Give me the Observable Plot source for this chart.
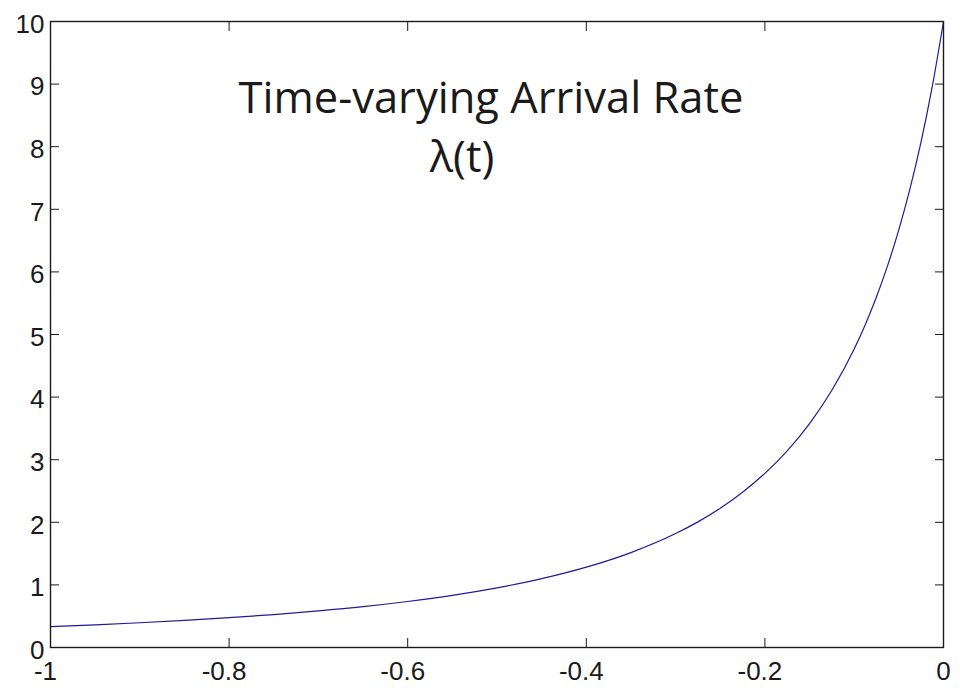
<!DOCTYPE html>
<html><head><meta charset="utf-8">
<script src="https://cdn.jsdelivr.net/npm/d3@7"></script>
<script src="https://cdn.jsdelivr.net/npm/@observablehq/plot@0.6"></script>
<style>html,body{margin:0;padding:0;background:#fff;overflow:hidden}</style>
</head><body><div id="chart"></div>
<script>
// time t (x) and arrival rate λ(t) (y)
const t = [-1, -0.95, -0.9, -0.85, -0.8, -0.75, -0.7, -0.65, -0.6, -0.55, -0.5, -0.45, -0.4, -0.35, -0.3,
  -0.275, -0.25, -0.225, -0.2, -0.175, -0.15, -0.125, -0.1, -0.0875, -0.075, -0.0625, -0.05, -0.0375, -0.025, -0.0125, 0];
const lambda = [0.333, 0.362, 0.395, 0.433, 0.476, 0.526, 0.585, 0.653, 0.735, 0.833, 0.953, 1.099, 1.283, 1.516, 1.82,
  2.007, 2.225, 2.48, 2.782, 3.142, 3.577, 4.109, 4.769, 5.161, 5.603, 6.104, 6.675, 7.33, 8.087, 8.968, 10];
const xTicks = [-1, -0.8, -0.6, -0.4, -0.2, 0];
const yTicks = [0, 1, 2, 3, 4, 5, 6, 7, 8, 9, 10];
const titleLine1 = ["Time-varying Arrival Rate"];
const titleLine2 = ["λ(t)"];

const data = t.map((v, i) => ({t: v, rate: lambda[i]}));
const tickColor = "#1a1a1a";
const labelFont = 26;
const chart = Plot.plot({
  width: 960, height: 690,
  marginLeft: 50, marginRight: 17, marginTop: 21, marginBottom: 43,
  style: {fontFamily: "'Liberation Sans', Arial, sans-serif", background: "#fff", color: "#1a1a1a", overflow: "visible"},
  x: {domain: [-1, 0], label: null},
  y: {domain: [0, 10], label: null},
  marks: [
    Plot.line(data, {x: "t", y: "rate", stroke: "#1c1c9c", strokeWidth: 1.2, curve: "monotone-x"}),
    Plot.frame({stroke: tickColor, strokeWidth: 1.4}),
    // inward ticks on all four sides
    Plot.axisX(xTicks, {anchor: "bottom", tickSize: 9, insetBottom: 9, tickFormat: () => "", stroke: tickColor, label: null}),
    Plot.axisX(xTicks, {anchor: "top", tickSize: 9, insetTop: 9, tickFormat: () => "", stroke: tickColor, label: null}),
    Plot.axisY(yTicks, {anchor: "left", tickSize: 9, insetLeft: 9, tickFormat: () => "", stroke: tickColor, label: null}),
    Plot.axisY(yTicks, {anchor: "right", tickSize: 9, insetRight: 9, tickFormat: () => "", stroke: tickColor, label: null}),
    // tick labels
    Plot.axisX(xTicks.filter(d => d < 0), {anchor: "bottom", tickSize: 0, tickPadding: 14, fontSize: labelFont, dx: -5, tickFormat: d => String(d), label: null}),
    Plot.axisX(xTicks.filter(d => d >= 0), {anchor: "bottom", tickSize: 0, tickPadding: 14, fontSize: labelFont, tickFormat: d => String(d), label: null}),
    Plot.axisY(yTicks, {anchor: "left", tickSize: 0, tickPadding: 6, fontSize: labelFont, dy: 3, tickFormat: d => String(d), label: null}),
    // title inside the plot
    Plot.text(titleLine1, {frameAnchor: "top", dx: -6, dy: 91, lineAnchor: "bottom", fontSize: 43.5, fontFamily: "'Open Sans', sans-serif", fill: "#1a1a1a"}),
    Plot.text(titleLine2, {frameAnchor: "top", dx: -35, dy: 150, lineAnchor: "bottom", fontSize: 43.5, fontFamily: "'Open Sans', sans-serif", fill: "#1a1a1a"})
  ]
});
document.getElementById("chart").appendChild(chart);
</script>
</body></html>
